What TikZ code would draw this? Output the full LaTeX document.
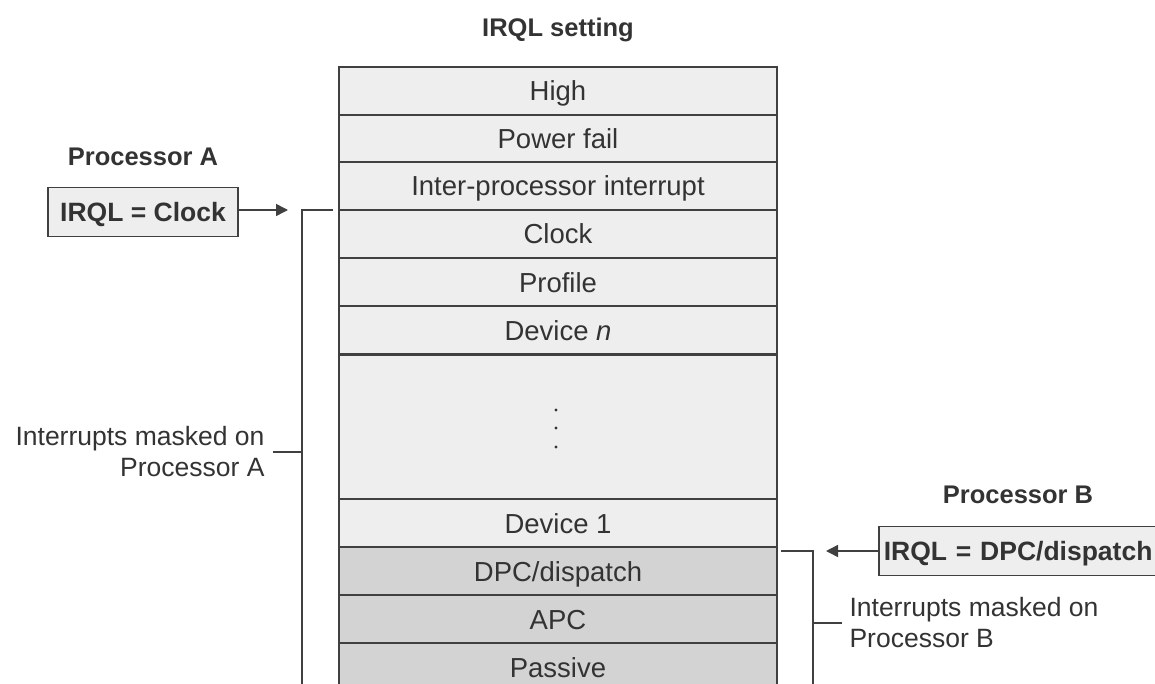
\documentclass[tikz,border=0pt]{standalone}
\usepackage{fontspec}
\setmainfont{Liberation Sans}
\usetikzlibrary{arrows.meta}

\definecolor{lightrow}{HTML}{EEEEEE}
\definecolor{darkrow}{HTML}{D3D3D3}
\definecolor{linegray}{HTML}{404040}
\definecolor{textgray}{HTML}{333333}

\tikzset{
  lvl/.style={draw=linegray, line width=1.5pt, fill=lightrow, minimum width=438pt,
    minimum height=48pt, inner sep=0pt, text height=20pt, text depth=0pt,
    text=textgray, font=\fontsize{27.5}{31}\selectfont},
  lvldark/.style={lvl, fill=darkrow},
  irqlbox/.style={draw=linegray, line width=1.5pt, fill=lightrow, inner sep=0pt,
    minimum height=49pt, text height=19pt, text depth=0pt, text=textgray,
    font=\bfseries\fontsize{26.5}{30}\selectfont},
  head/.style={text=textgray, font=\bfseries\fontsize{25.5}{29}\selectfont},
  masklabel/.style={text=textgray, align=left, font=\fontsize{26.5}{31}\selectfont},
  wire/.style={draw=linegray, line width=1.5pt},
}

\begin{document}
\begin{tikzpicture}[x=1pt, y=-1pt]

\useasboundingbox (0,0) rectangle (1155,684);
\clip (0,0) rectangle (1155,684);

% Titolo
\node[head] (title) at (558,30) {IRQL setting};

% Livelli IRQL
\node[lvl] (high) at (558,91) {High};
\node[lvl] (power) at (558,139) {Power fail};
\node[lvl] (ipi) at (558,186) {Inter-processor interrupt};
\node[lvl] (clock) at (558,234) {Clock};
\node[lvl] (profile) at (558,282) {Profile};
\node[lvl] (devn) at (558,330) {Device \textit{n}};
\node[lvl, minimum height=144pt] (dots) at (558,427) {};
\node[lvl] (dev1) at (558,523) {Device 1};
\node[lvldark] (dpc) at (558,571) {DPC/dispatch};
\node[lvldark] (apc) at (558,619) {APC};
\node[lvldark] (passive) at (558,667) {Passive};

% Puntini
\fill[textgray] (556,410) circle (1.6pt);
\fill[textgray] (556,428) circle (1.6pt);
\fill[textgray] (556,447) circle (1.6pt);

% Processore A
\node[head] (procA) at (143,157) {Processor A};
\node[irqlbox, minimum width=190pt] (irqlA) at (143,212) {IRQL = Clock};
\coordinate (tipA) at (288,210);
\draw[wire, -{Triangle[length=12pt,width=12pt]}] (irqlA.east |- tipA) -- (tipA);

% Parentesi A
\coordinate (topA) at (333,210);
\coordinate (barA) at (302,210);
\coordinate (botA) at (302,700);
\draw[wire] (topA) -- (barA) -- (botA);
\node[masklabel, align=right, anchor=east] (maskA) at (268,452) {Interrupts masked on\\Processor A};
\draw[wire] (maskA.east) ++(5,0) -- (barA |- maskA.east);

% Processore B
\node[head] (procB) at (1018,495) {Processor B};
\node[irqlbox, minimum width=290pt, anchor=west, text width=280pt, align=left] (irqlB) at (878,551) {IRQL = DPC/dispatch};
\coordinate (tipB) at (826,551);
\draw[wire, -{Triangle[length=12pt,width=12pt]}] (irqlB.west) -- (tipB);

% Parentesi B
\coordinate (topB) at (781,551);
\coordinate (barB) at (813,551);
\coordinate (botB) at (813,700);
\draw[wire] (topB) -- (barB) -- (botB);
\node[masklabel, anchor=west] (maskB) at (846,623) {Interrupts masked on\\Processor B};
\draw[wire] (barB |- maskB.west) -- ++(29,0);

\end{tikzpicture}
\end{document}
